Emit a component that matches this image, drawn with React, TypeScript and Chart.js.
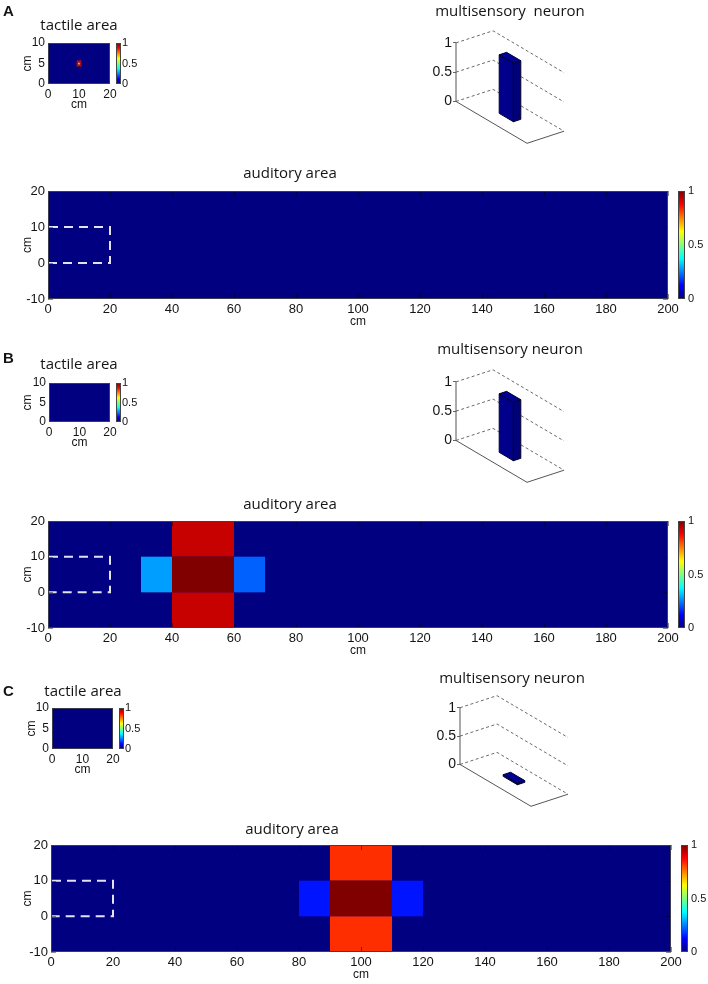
import React, { useEffect, useRef } from "react";
import { Chart, registerables } from "chart.js";
Chart.register(...registerables);

// ---------------- DATA ----------------
const AUDITORY_X_TICKS = [0, 20, 40, 60, 80, 100, 120, 140, 160, 180, 200];
const AUDITORY_Y_TICKS = [-10, 0, 10, 20];
const TACTILE_X_TICKS = [0, 10, 20];
const TACTILE_Y_TICKS = [0, 5, 10];
const COLORBAR_TICKS = [0, 0.5, 1];
const NEURON_TICKS = [0, 0.5, 1];

// cells: [x0 (cm), x1 (cm), y0 (cm), y1 (cm), activity]
const TACTILE_A_CELLS = [
  [9.25, 9.75, 4.25, 4.75, 0.9], [9.75, 10.25, 4.25, 4.75, 0.9], [10.25, 10.75, 4.25, 4.75, 0.9],
  [9.25, 9.75, 4.75, 5.25, 0.9], [9.75, 10.25, 4.75, 5.25, 0.62], [10.25, 10.75, 4.75, 5.25, 0.9],
  [9.25, 9.75, 5.25, 5.75, 0.9], [9.75, 10.25, 5.25, 5.75, 0.9], [10.25, 10.75, 5.25, 5.75, 0.9],
];
const TACTILE_B_CELLS: number[][] = [];
const TACTILE_C_CELLS: number[][] = [];

const AUDITORY_A_CELLS: number[][] = [];
const AUDITORY_B_CELLS = [
  [40, 60, 10, 20, 0.93],
  [40, 60, 0, 10, 1.0],
  [40, 60, -10, 0, 0.93],
  [30, 40, 0, 10, 0.28],
  [60, 70, 0, 10, 0.22],
];
const AUDITORY_C_CELLS = [
  [90, 110, 10, 20, 0.83],
  [90, 110, 0, 10, 1.0],
  [90, 110, -10, 0, 0.83],
  [80, 90, 0, 10, 0.145],
  [110, 120, 0, 10, 0.145],
];

// body (tactile) region outlined on the auditory map: [x0, x1, y0, y1]
const TACTILE_OUTLINE = [0, 20, 0, 10];

// multisensory neuron activity for panels A, B, C
const NEURON_ACTIVITY = [1.0, 1.0, 0.03];

const PANEL_LABELS = ["A", "B", "C"];

// ---------------- STYLE ----------------
const FONT = '"Liberation Sans", Arial, Helvetica, sans-serif';
const TITLE_FONT = '"Open Sans", "Noto Sans", sans-serif';
const TEXT_COLOR = "#141414";
const BAR_FOOT = [0.4, 0.6, 0.4, 0.6]; // u0,u1,v0,v1 in floor units
const U_VEC = [71, 45];
const V_VEC = [37, -13];

function jet(v: number): string {
  const c = (t: number) => Math.round(255 * Math.max(0, Math.min(1, t)));
  const r = c(1.5 - Math.abs(4 * v - 3));
  const g = c(1.5 - Math.abs(4 * v - 2));
  const b = c(1.5 - Math.abs(4 * v - 1));
  return `rgb(${r},${g},${b})`;
}

type TextItem = { text: string; x: number; y: number; font: string; align?: CanvasTextAlign; baseline?: CanvasTextBaseline };

function textPlugin(items: TextItem[]) {
  return {
    id: "texts",
    afterDraw(chart: any) {
      const ctx = chart.ctx as CanvasRenderingContext2D;
      ctx.save();
      for (const t of items) {
        ctx.font = t.font;
        ctx.fillStyle = TEXT_COLOR;
        ctx.textAlign = t.align || "center";
        ctx.textBaseline = t.baseline || "middle";
        ctx.fillText(t.text, t.x, t.y);
      }
      ctx.restore();
    },
  };
}

type HeatSpec = {
  left: number; top: number; w: number; h: number;
  plotLeft: number; plotRight: number; plotTop: number; plotBottom: number;
  xMin: number; xMax: number; yMin: number; yMax: number;
  xTicks: number[]; yTicks: number[];
  cells: number[][]; outline?: number[];
  tickSize: number; cbGap: number; cbW: number; cbPad: number; cbSize: number;
  xLabelY: number; xTitleY: number; yTitleX: number; yLabelPad: number;
  texts: TextItem[]; inward: boolean;
};

function heatPlugin(s: HeatSpec) {
  return {
    id: "heat",
    beforeDatasetsDraw(chart: any) {
      const ctx = chart.ctx as CanvasRenderingContext2D;
      const a = chart.chartArea;
      const xs = chart.scales.x, ys = chart.scales.y, cb = chart.scales.cb;
      ctx.save();
      ctx.fillStyle = jet(0);
      ctx.fillRect(a.left, a.top, a.right - a.left, a.bottom - a.top);
      for (const c of s.cells) {
        const px0 = xs.getPixelForValue(c[0]), px1 = xs.getPixelForValue(c[1]);
        const py0 = ys.getPixelForValue(c[2]), py1 = ys.getPixelForValue(c[3]);
        ctx.fillStyle = jet(c[4]);
        ctx.fillRect(Math.min(px0, px1), Math.min(py0, py1), Math.abs(px1 - px0), Math.abs(py1 - py0));
      }
      if (s.outline) {
        const [x0, x1, y0, y1] = s.outline;
        ctx.strokeStyle = "rgba(238,238,250,0.95)";
        ctx.lineWidth = 2;
        ctx.setLineDash([9, 6]);
        ctx.beginPath();
        ctx.moveTo(xs.getPixelForValue(x0) + 1, ys.getPixelForValue(y1));
        ctx.lineTo(xs.getPixelForValue(x1), ys.getPixelForValue(y1));
        ctx.lineTo(xs.getPixelForValue(x1), ys.getPixelForValue(y0));
        ctx.lineTo(xs.getPixelForValue(x0) + 1, ys.getPixelForValue(y0));
        ctx.stroke();
        ctx.setLineDash([]);
      }
      if (s.inward) {
        ctx.strokeStyle = "rgba(0,0,0,0.45)";
        ctx.lineWidth = 1;
        ctx.beginPath();
        for (const t of xs.ticks) {
          const px = Math.round(xs.getPixelForValue(t.value)) + 0.5;
          ctx.moveTo(px, a.bottom); ctx.lineTo(px, a.bottom - 5);
          ctx.moveTo(px, a.top); ctx.lineTo(px, a.top + 5);
        }
        for (const t of ys.ticks) {
          const py = Math.round(ys.getPixelForValue(t.value)) + 0.5;
          ctx.moveTo(a.left, py); ctx.lineTo(a.left + 5, py);
          ctx.moveTo(a.right, py); ctx.lineTo(a.right - 5, py);
        }
        ctx.stroke();
      }
      ctx.strokeStyle = "#3c3c50";
      ctx.lineWidth = 1;
      ctx.strokeRect(a.left + 0.5, a.top + 0.5, a.right - a.left - 1, a.bottom - a.top - 1);
      // colorbar
      const gx = cb.left + s.cbGap;
      const grad = ctx.createLinearGradient(0, cb.bottom, 0, cb.top);
      for (let i = 0; i <= 32; i++) grad.addColorStop(i / 32, jet(i / 32));
      ctx.fillStyle = grad;
      ctx.fillRect(gx, cb.top, s.cbW, cb.bottom - cb.top);
      ctx.strokeStyle = "#444";
      ctx.strokeRect(gx + 0.5, cb.top + 0.5, s.cbW - 1, cb.bottom - cb.top - 1);
      ctx.restore();
    },
  };
}

function heatConfig(s: HeatSpec): any {
  const lh = s.tickSize * 1.2;
  const titleLh = 12 * 1.2;
  return {
    type: "scatter",
    data: { datasets: [] },
    options: {
      responsive: false,
      animation: false,
      events: [],
      layout: { padding: { top: s.plotTop, left: 0, right: 0, bottom: 0 } },
      plugins: { legend: { display: false }, tooltip: { enabled: false }, title: { display: false } },
      scales: {
        x: {
          type: "linear", position: "bottom", min: s.xMin, max: s.xMax,
          afterBuildTicks: (sc: any) => { sc.ticks = s.xTicks.map((v) => ({ value: v })); },
          afterFit: (sc: any) => { sc.height = s.h - s.plotBottom; },
          grid: { display: false, drawTicks: false },
          border: { display: false },
          ticks: {
            autoSkip: false, maxRotation: 0, minRotation: 0,
            padding: s.xLabelY - s.plotBottom - lh / 2,
            font: { family: FONT, size: s.tickSize }, color: TEXT_COLOR,
            callback: (v: any) => String(v),
          },
          title: {
            display: true, text: "cm", color: TEXT_COLOR, font: { family: FONT, size: 12 },
            padding: { top: 0, bottom: s.h - s.xTitleY - titleLh / 2 },
          },
        },
        y: {
          type: "linear", position: "left", min: s.yMin, max: s.yMax,
          afterBuildTicks: (sc: any) => { sc.ticks = s.yTicks.map((v) => ({ value: v })); },
          afterFit: (sc: any) => { sc.width = s.plotLeft; },
          grid: { display: false, drawTicks: false },
          border: { display: false },
          ticks: {
            autoSkip: false, padding: s.yLabelPad,
            font: { family: FONT, size: s.tickSize }, color: TEXT_COLOR,
            callback: (v: any) => String(v),
          },
          title: {
            display: true, text: "cm", color: TEXT_COLOR, font: { family: FONT, size: 12 },
            padding: { top: s.yTitleX - titleLh / 2, bottom: 0 },
          },
        },
        cb: {
          type: "linear", position: "right", min: 0, max: 1,
          afterBuildTicks: (sc: any) => { sc.ticks = COLORBAR_TICKS.map((v) => ({ value: v })); },
          afterFit: (sc: any) => { sc.width = s.w - s.plotRight; },
          grid: { display: false, drawTicks: false },
          border: { display: false },
          ticks: {
            autoSkip: false, padding: s.cbPad,
            font: { family: FONT, size: s.cbSize }, color: TEXT_COLOR,
            callback: (v: any) => String(v),
          },
        },
      },
    },
    plugins: [heatPlugin(s), textPlugin(s.texts)],
  };
}

type NeuronSpec = {
  left: number; top: number; w: number; h: number; axisW: number; padTop: number;
  oyc: number; s: number; activity: number; texts: TextItem[];
};

function neuronPlugin(n: NeuronSpec) {
  return {
    id: "neuron",
    afterDatasetsDraw(chart: any) {
      const ctx = chart.ctx as CanvasRenderingContext2D;
      const xs = chart.scales.x, ys = chart.scales.y;
      const P = (u: number, v: number, z: number): [number, number] => [
        xs.getPixelForValue(u * U_VEC[0] + v * V_VEC[0]),
        ys.getPixelForValue(z - (u * U_VEC[1] + v * V_VEC[1]) / n.s),
      ];
      const line = (pts: [number, number][]) => {
        ctx.beginPath();
        pts.forEach((p, i) => (i === 0 ? ctx.moveTo(p[0], p[1]) : ctx.lineTo(p[0], p[1])));
        ctx.stroke();
      };
      ctx.save();
      ctx.lineWidth = 1;
      ctx.strokeStyle = "#6a6a6a";
      ctx.setLineDash([3, 2.5]);
      for (const z of NEURON_TICKS) line([P(0, 0, z), P(0, 1, z), P(1, 1, z)]);
      ctx.setLineDash([]);
      ctx.strokeStyle = "#555";
      line([P(0, 0, 0), P(1, 0, 0), P(1, 1, 0)]);
      line([P(0, 0, 0), P(0, 0, NEURON_TICKS[NEURON_TICKS.length - 1])]);
      // bar
      const [u0, u1, v0, v1] = BAR_FOOT;
      const h = n.activity;
      const face = (pts: [number, number][], fill: string) => {
        ctx.beginPath();
        pts.forEach((p, i) => (i === 0 ? ctx.moveTo(p[0], p[1]) : ctx.lineTo(p[0], p[1])));
        ctx.closePath();
        ctx.fillStyle = fill;
        ctx.fill();
        ctx.strokeStyle = "#00002a";
        ctx.stroke();
      };
      face([P(u0, v0, 0), P(u1, v0, 0), P(u1, v0, h), P(u0, v0, h)], "#00008a");
      face([P(u1, v0, 0), P(u1, v1, 0), P(u1, v1, h), P(u1, v0, h)], "#000078");
      face([P(u0, v0, h), P(u1, v0, h), P(u1, v1, h), P(u0, v1, h)], "#000096");
      ctx.restore();
    },
  };
}

function neuronConfig(n: NeuronSpec): any {
  return {
    type: "scatter",
    data: { datasets: [] },
    options: {
      responsive: false,
      animation: false,
      events: [],
      layout: { padding: { top: n.padTop, left: 0, right: 0, bottom: 0 } },
      plugins: { legend: { display: false }, tooltip: { enabled: false }, title: { display: false } },
      scales: {
        x: { type: "linear", display: false, min: 0, max: n.w - n.axisW },
        y: {
          type: "linear", position: "left",
          min: -(n.h - n.oyc) / n.s, max: (n.oyc - n.padTop) / n.s,
          afterBuildTicks: (sc: any) => { sc.ticks = NEURON_TICKS.map((v) => ({ value: v })); },
          afterFit: (sc: any) => { sc.width = n.axisW; },
          grid: { display: true, drawOnChartArea: false, drawTicks: true, tickLength: 3, color: "#666" },
          border: { display: false },
          ticks: {
            autoSkip: false, padding: 1,
            font: { family: FONT, size: 14 }, color: TEXT_COLOR,
            callback: (v: any) => String(v),
          },
        },
      },
    },
    plugins: [neuronPlugin(n), textPlugin(n.texts)],
  };
}

// ---------------- LAYOUT ----------------
const TITLE15 = `15px ${TITLE_FONT}`;
const LETTER = `bold 15px ${FONT}`;

function tactile(top: number, left: number, plotL: number, plotR: number, plotB: number, cells: number[][],
  titleX: number, titleY: number, letter: string, letterY: number, yTitleX: number): HeatSpec {
  return {
    left, top, w: plotR + 35, h: plotB + 31,
    plotLeft: plotL, plotRight: plotR, plotTop: 43, plotBottom: plotB,
    xMin: 0, xMax: 20, yMin: 0, yMax: 10,
    xTicks: TACTILE_X_TICKS, yTicks: TACTILE_Y_TICKS, cells,
    tickSize: 12, cbGap: 6, cbW: 5, cbPad: 12, cbSize: 11,
    xLabelY: plotB + 11, xTitleY: plotB + 21, yTitleX, yLabelPad: 3,
    texts: [
      { text: "tactile area", x: titleX, y: titleY, font: TITLE15 },
      { text: letter, x: 3, y: letterY, font: LETTER, align: "left", baseline: "alphabetic" },
    ],
    inward: false,
  };
}

function auditory(top: number, plotL: number, plotB: number, cells: number[][], titleX: number, titleY: number): HeatSpec {
  const plotR = plotL + 620;
  return {
    left: 0, top, w: 708, h: plotB + 32,
    plotLeft: plotL, plotRight: plotR, plotTop: 36, plotBottom: plotB,
    xMin: 0, xMax: 200, yMin: -10, yMax: 20,
    xTicks: AUDITORY_X_TICKS, yTicks: AUDITORY_Y_TICKS, cells, outline: TACTILE_OUTLINE,
    tickSize: 13, cbGap: 10, cbW: 7, cbPad: 20, cbSize: 11,
    xLabelY: plotB + 10, xTitleY: plotB + 23, yTitleX: 28, yLabelPad: 3,
    texts: [{ text: "auditory area", x: titleX, y: titleY, font: TITLE15 }],
    inward: true,
  };
}

function neuron(ox: number, oy: number, s: number, activity: number, title: string, titleX: number, titleY: number): NeuronSpec {
  const axisW = 76;
  const left = ox - axisW;
  const top = oy - 107;
  return {
    left, top, w: 250, h: 162, axisW, padTop: 28, oyc: 107, s, activity,
    texts: [{ text: title, x: titleX - left, y: titleY - top, font: TITLE15 }],
  };
}

const HEAT_SPECS: HeatSpec[] = [
  tactile(0, 0, 48, 110, 84, TACTILE_A_CELLS, 79, 26, PANEL_LABELS[0], 16, 28),
  tactile(340, 0, 49, 110, 82, TACTILE_B_CELLS, 79, 25, PANEL_LABELS[1], 23, 28),
  tactile(665, 0, 52, 113, 84, TACTILE_C_CELLS, 83, 27, PANEL_LABELS[2], 31, 32),
  auditory(155, 48, 144, AUDITORY_A_CELLS, 290, 19),
  auditory(485, 48, 143, AUDITORY_B_CELLS, 290, 20),
  auditory(809, 51, 143, AUDITORY_C_CELLS, 292, 21),
];

const NEURON_SPECS: NeuronSpec[] = [
  neuron(456, 107, 63, NEURON_ACTIVITY[0], "multisensory  neuron", 510, 12),
  neuron(456, 446, 63, NEURON_ACTIVITY[1], "multisensory neuron", 510, 350),
  neuron(460, 770, 61, NEURON_ACTIVITY[2], "multisensory neuron", 512, 679),
];

type Item = { left: number; top: number; w: number; h: number; config: any };
const ITEMS: Item[] = [
  ...HEAT_SPECS.map((s) => ({ left: s.left, top: s.top, w: s.w, h: s.h, config: heatConfig(s) })),
  ...NEURON_SPECS.map((n) => ({ left: n.left, top: n.top, w: n.w, h: n.h, config: neuronConfig(n) })),
];

export default function App() {
  const refs = useRef<(HTMLCanvasElement | null)[]>([]);
  useEffect(() => {
    const charts: Chart[] = [];
    ITEMS.forEach((it, i) => {
      const c = refs.current[i];
      if (c) charts.push(new Chart(c, it.config));
    });
    return () => charts.forEach((c) => c.destroy());
  }, []);
  return (
    <div style={{ position: "absolute", left: 0, top: 0, width: 708, height: 984, background: "#fff", overflow: "hidden" }}>
      {ITEMS.map((it, i) => (
        <canvas
          key={i}
          ref={(el) => { refs.current[i] = el; }}
          width={it.w}
          height={it.h}
          style={{ position: "absolute", left: it.left, top: it.top, width: it.w, height: it.h }}
        />
      ))}
    </div>
  );
}
